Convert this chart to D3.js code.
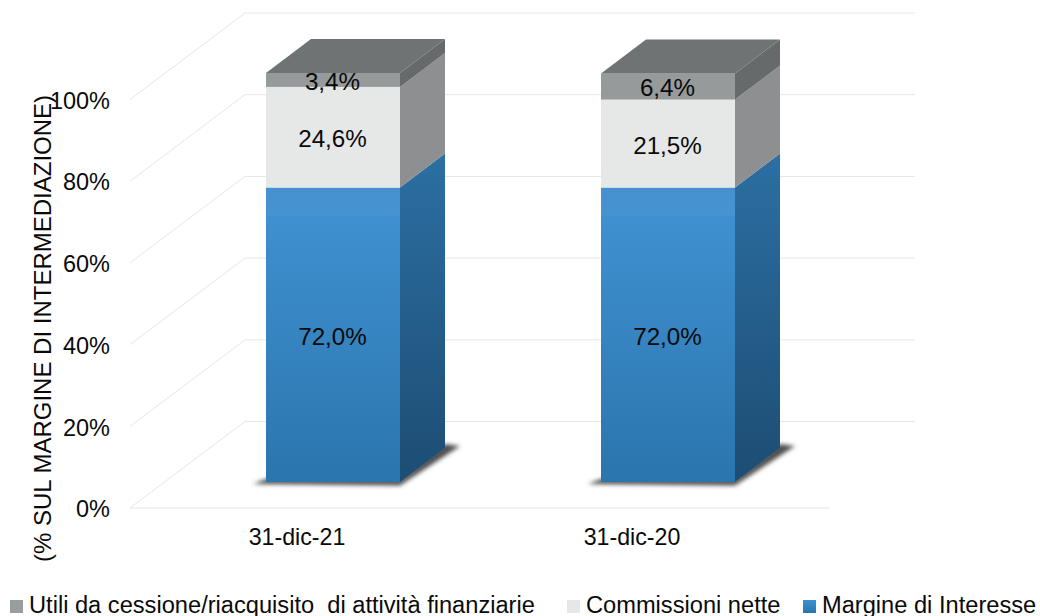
<!DOCTYPE html>
<html><head><meta charset="utf-8">
<script src="https://cdn.jsdelivr.net/npm/d3@7"></script>
<style>
html,body{margin:0;padding:0;background:#fff;overflow:hidden}
svg{display:block}
text{font-family:"Liberation Sans",Arial,sans-serif;fill:#0a0a0a}
.axis path,.axis line{display:none}
</style></head><body><svg id="c" width="1040" height="616"></svg>
<script>
const categories=["31-dic-21","31-dic-20"];
const seriesNames=["Margine di Interesse","Commissioni nette","Utili da cessione/riacquisito  di attività finanziarie"];
const margine=[72.0,72.0];
const commissioni=[24.6,21.5];
const utili=[3.4,6.4];
const valueLabels=[["72,0%","72,0%"],["24,6%","21,5%"],["3,4%","6,4%"]];
const yTicks=[0,20,40,60,80,100];
const legendOrder=[2,1,0];

const svg=d3.select("#c");
const yAxisScale=d3.scaleLinear().domain([0,100]).range([508,99.5]);
const yBar=d3.scaleLinear().domain([0,100]).range([482,73]);
const x=d3.scaleBand().domain(categories).range([165.5,835.5]);
const xAxisScale=d3.scaleBand().domain(categories).range([129.5,799.5]);
const barW=134, backDX=115, backDY=-86.5, depthX=45, depthY=-34;

const defs=svg.append("defs");
function grad(id,stops){
  const g=defs.append("linearGradient").attr("id",id).attr("x1",0).attr("y1",0).attr("x2",0).attr("y2",1);
  stops.forEach(s=>g.append("stop").attr("offset",s[0]).attr("stop-color",s[1]));
}
grad("blueFront",[[0,"#4590cf"],[0.09,"#4892d0"],[0.1,"#3f90d0"],[1,"#2b75ad"]]);
grad("blueSide",[[0,"#2c6fa3"],[1,"#1d4d73"]]);
grad("lgBlue",[[0,"#3f90d0"],[1,"#2b75ad"]]);
defs.append("filter").attr("id","blur").attr("x","-20%").attr("y","-20%").attr("width","140%").attr("height","140%")
  .append("feGaussianBlur").attr("stdDeviation",2.2);

const grid=svg.append("g").attr("fill","none").attr("stroke","#e4e7e8").attr("stroke-width",1);
const line=d3.line();
yTicks.forEach(t=>{
  const y=yAxisScale(t);
  grid.append("path").attr("d",line([[130,y],[130+backDX,y+backDY],[915,y+backDY]]));
});
grid.append("path").attr("d",line([[130,yAxisScale(0)],[830,yAxisScale(0)]]));

svg.append("text").attr("transform","translate(42,328.5) rotate(-90)")
  .attr("text-anchor","middle").attr("dominant-baseline","central").attr("font-size",24)
  .text("(% SUL MARGINE DI INTERMEDIAZIONE)");

svg.append("g").attr("class","axis").attr("transform","translate(110,0)")
  .call(d3.axisLeft(yAxisScale).tickValues(yTicks).tickSize(0).tickPadding(0).tickFormat(d=>d+"%"))
  .call(g=>g.selectAll("text").attr("font-size",23.5).style("font-family",'"Liberation Sans"').attr("dy","0.37em"));

svg.append("g").attr("class","axis").attr("transform","translate(0,536)")
  .call(d3.axisBottom(xAxisScale).tickSize(0).tickPadding(0))
  .call(g=>g.selectAll("text").attr("font-size",23.2).style("font-family",'"Liberation Sans"').attr("dy","0.37em"));

const values=[margine,commissioni,utili];
const frontFill=["url(#blueFront)","#e6e7e7","#969a9b"];
const sideFill=["url(#blueSide)","#8e8f90","#666a6b"];
categories.forEach((c,i)=>{
  const g=svg.append("g");
  const x0=x(c)+(x.bandwidth()-barW)/2, x1=x0+barW;
  const yb=yBar(0);
  g.append("path").attr("filter","url(#blur)").attr("fill","#4d4d4d")
    .attr("d",line([[x0-13,yb+2],[x1,yb+3.5],[x1+depthX+15,yb+depthY-2],[x1+depthX,yb+depthY-4],[x1,yb-3],[x0,yb-3]])+"Z");
  let acc=0;
  const segs=values.map((v,k)=>{const s={k,from:acc,to:acc+v[i]};acc+=v[i];return s;});
  segs.forEach(s=>{
    const y0=yBar(s.from),y1=yBar(s.to);
    g.append("rect").attr("x",x0).attr("y",y1).attr("width",barW).attr("height",y0-y1).attr("fill",frontFill[s.k]);
    g.append("path").attr("fill",sideFill[s.k])
      .attr("d",line([[x1,y0],[x1+depthX,y0+depthY],[x1+depthX,y1+depthY],[x1,y1]])+"Z");
  });
  const top=yBar(acc);
  g.append("path").attr("fill","#707374")
    .attr("d",line([[x0,top],[x0+depthX,top+depthY],[x1+depthX,top+depthY],[x1,top]])+"Z");
  segs.forEach(s=>{
    g.append("text").attr("x",(x0+x1)/2-0.5).attr("y",(yBar(s.from)+yBar(s.to))/2+1.5)
      .attr("text-anchor","middle").attr("dominant-baseline","central").attr("font-size",24.2)
      .text(valueLabels[s.k][i]);
  });
});

const legendX=[10,567,803];
const legendSwatch=["#9a9d9e","#e6e7e7","url(#lgBlue)"];
const leg=svg.append("g");
legendOrder.forEach((k,j)=>{
  leg.append("rect").attr("x",legendX[j]).attr("y",600).attr("width",13).attr("height",13).attr("fill",legendSwatch[j]);
  leg.append("text").attr("x",legendX[j]+19).attr("y",612.5).attr("font-size",23.65).attr("xml:space","preserve").style("white-space","pre").text(seriesNames[k]);
});
</script></body></html>
